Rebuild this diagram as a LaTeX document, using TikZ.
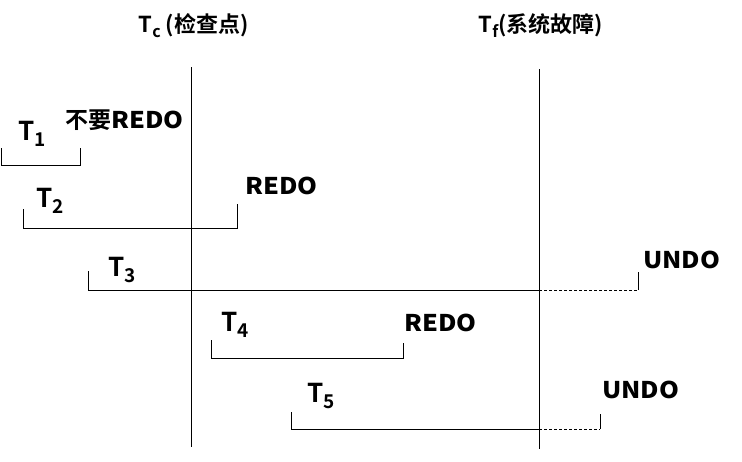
\documentclass[tikz,border=0pt]{standalone}
\usepackage{fontspec}
\setmainfont{Noto Sans CJK SC}[BoldFont={* Bold}]
\newfontfamily\widefont{Noto Sans CJK SC Bold}[FakeStretch=1.1]
\newcommand\Tlab[1]{T\kern0.5pt\raisebox{-6pt}{\fontsize{19}{19}\selectfont #1}}
\newcommand\Ttop[1]{T\kern0.5pt\raisebox{-5pt}{\fontsize{16}{16}\selectfont #1}}
\tikzset{
  tlab/.style={anchor=base west,inner sep=0pt,font=\bfseries\fontsize{26}{26}\selectfont},
  act/.style={anchor=base west,inner sep=0pt,font=\bfseries\fontsize{23}{23}\selectfont},
  toplab/.style={anchor=base west,inner sep=0pt,font=\bfseries\fontsize{22}{22}\selectfont},
  bar/.style={line width=1pt,black},
  future/.style={line width=1pt,black,dashed,dash pattern=on 3pt off 2pt},
}
\newcommand\W[1]{{\widefont #1}}
\begin{document}
\begin{tikzpicture}[x=1pt,y=-1pt]
\useasboundingbox (0,0) rectangle (742,461);
% time lines
\coordinate (c1) at (191,67); \coordinate (c2) at (191,447);
\coordinate (f1) at (539,69); \coordinate (f2) at (539,449);
\draw[bar] (c1) -- (c2);
\draw[bar] (f1) -- (f2);
\node[toplab] (tc) at (138,32) {\Ttop{c} (检查点)};
\node[toplab] (tf) at (478,32) {\Ttop{f}(系统故障)};
% T1
\coordinate (a1) at (1,148); \coordinate (a2) at (1,165);
\coordinate (a3) at (80,165); \coordinate (a4) at (80,148);
\draw[bar] (a1) -- (a2) -- (a3) -- (a4);
\node[tlab] (t1) at (18,140) {\Tlab{1}};
\node[act] (r1) at (65,128) {不要\W{REDO}};
% T2
\coordinate (b1) at (23,209); \coordinate (b2) at (23,228);
\coordinate (b3) at (237,228); \coordinate (b4) at (237,204);
\draw[bar] (b1) -- (b2) -- (b3) -- (b4);
\node[tlab] (t2) at (36,207) {\Tlab{2}};
\node[act] (r2) at (245,194) {\W{REDO}};
% T3
\coordinate (d1) at (88,271); \coordinate (d2) at (88,290);
\coordinate (d3) at (539,290); \coordinate (d4) at (638,290);
\coordinate (d5) at (638,272);
\draw[bar] (d1) -- (d2) -- (d3);
\draw[future] (d3) -- (d4);
\draw[bar] (d4) -- (d5);
\node[tlab] (t3) at (108,276) {\Tlab{3}};
\node[act] (r3) at (643,268) {\W{UNDO}};
% T4
\coordinate (e1) at (211,340); \coordinate (e2) at (211,358);
\coordinate (e3) at (403,358); \coordinate (e4) at (403,343);
\draw[bar] (e1) -- (e2) -- (e3) -- (e4);
\node[tlab] (t4) at (221,331) {\Tlab{4}};
\node[act] (r4) at (404,331) {\W{REDO}};
% T5
\coordinate (g1) at (291,412); \coordinate (g2) at (291,429);
\coordinate (g3) at (539,429); \coordinate (g4) at (600,429);
\coordinate (g5) at (600,414);
\draw[bar] (g1) -- (g2) -- (g3);
\draw[future] (g3) -- (g4);
\draw[bar] (g4) -- (g5);
\node[tlab] (t5) at (307,402) {\Tlab{5}};
\node[act] (r5) at (602,398) {\W{UNDO}};
\end{tikzpicture}
\end{document}
